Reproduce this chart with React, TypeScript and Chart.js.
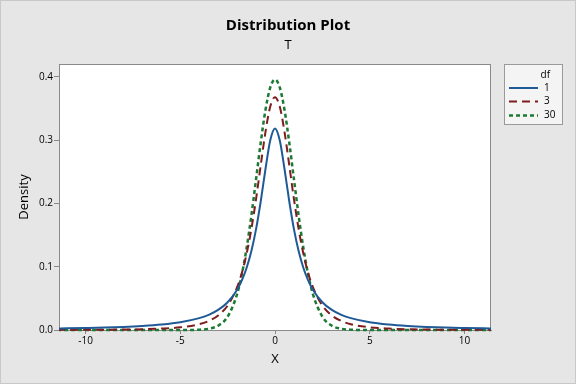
import React, { useEffect, useRef } from "react";
import { Chart, registerables } from "chart.js";

Chart.register(...registerables);

const chartTitle = "Distribution Plot";
const chartSubtitle = "T";
const xAxisTitle = "X";
const yAxisTitle = "Density";
const legendTitle = "df";
const seriesLabels = ["1", "3", "30"];

const xValues = [
  -11.5, -11, -10, -9, -8, -7, -6, -5, -4, -3.5, -3, -2.5, -2, -1.75, -1.5, -1.25, -1, -0.75, -0.5, -0.25,
  0,
  0.25, 0.5, 0.75, 1, 1.25, 1.5, 1.75, 2, 2.5, 3, 3.5, 4, 5, 6, 7, 8, 9, 10, 11, 11.5,
];

const df1 = [
  0.0024, 0.0026, 0.0032, 0.0039, 0.0049, 0.0064, 0.0086, 0.0122, 0.0187, 0.024, 0.0318, 0.0439, 0.0637, 0.0784, 0.0979, 0.1242, 0.1592, 0.2037, 0.2546, 0.2996,
  0.3183,
  0.2996, 0.2546, 0.2037, 0.1592, 0.1242, 0.0979, 0.0784, 0.0637, 0.0439, 0.0318, 0.024, 0.0187, 0.0122, 0.0086, 0.0064, 0.0049, 0.0039, 0.0032, 0.0026, 0.0024,
];

const df3 = [
  0.0002, 0.0002, 0.0003, 0.0005, 0.0007, 0.0012, 0.0022, 0.0042, 0.0092, 0.0142, 0.023, 0.0387, 0.0675, 0.09, 0.12, 0.1589, 0.2067, 0.2607, 0.3132, 0.3528,
  0.3676,
  0.3528, 0.3132, 0.2607, 0.2067, 0.1589, 0.12, 0.09, 0.0675, 0.0387, 0.023, 0.0142, 0.0092, 0.0042, 0.0022, 0.0012, 0.0007, 0.0005, 0.0003, 0.0002, 0.0002,
];

const df30 = [
  0, 0, 0, 0, 0, 0, 0, 0, 0.0005, 0.002, 0.0068, 0.0211, 0.0568, 0.0877, 0.129, 0.1801, 0.238, 0.2966, 0.3479, 0.383,
  0.3956,
  0.383, 0.3479, 0.2966, 0.238, 0.1801, 0.129, 0.0877, 0.0568, 0.0211, 0.0068, 0.002, 0.0005, 0, 0, 0, 0, 0, 0, 0, 0,
];

const xTickValues = [-10, -5, 0, 5, 10];
const yTickValues = [0, 0.1, 0.2, 0.3, 0.4];

const FONT = "'Open Sans', 'Noto Sans', sans-serif";

const seriesStyles = [
  { color: "#1f5a96", dash: [] as number[], width: 2 },
  { color: "#7e1d1d", dash: [8, 5], width: 2 },
  { color: "#1b7a33", dash: [4, 3], width: 2.5 },
];

const backgroundPlugin = {
  id: "bgPlugin",
  beforeDraw(chart: any) {
    const { ctx, width, height, chartArea } = chart;
    ctx.save();
    ctx.fillStyle = "#e6e6e6";
    ctx.fillRect(0, 0, width, height);
    ctx.strokeStyle = "#c9c9c9";
    ctx.lineWidth = 1;
    ctx.strokeRect(0.5, 0.5, width - 1, height - 1);
    ctx.fillStyle = "#ffffff";
    ctx.fillRect(chartArea.left, chartArea.top, chartArea.right - chartArea.left, chartArea.bottom - chartArea.top);
    ctx.restore();
  },
  beforeDatasetsDraw(chart: any) {
    const { ctx, chartArea } = chart;
    ctx.save();
    ctx.strokeStyle = "#8a8a8a";
    ctx.lineWidth = 1;
    ctx.strokeRect(
      Math.round(chartArea.left) + 0.5,
      Math.round(chartArea.top) + 0.5,
      Math.round(chartArea.right - chartArea.left) - 1,
      Math.round(chartArea.bottom - chartArea.top)
    );
    ctx.restore();
  },
};

const legendPlugin = {
  id: "boxLegend",
  afterDraw(chart: any) {
    const { ctx, chartArea } = chart;
    const left = Math.round(chartArea.right) + 13;
    const top = Math.round(chartArea.top);
    const w = 58;
    const h = 60;
    ctx.save();
    ctx.fillStyle = "#f4f4f4";
    ctx.fillRect(left, top, w, h);
    ctx.strokeStyle = "#9a9a9a";
    ctx.lineWidth = 1;
    ctx.strokeRect(left + 0.5, top + 0.5, w, h);
    ctx.fillStyle = "#000000";
    ctx.font = `10px ${FONT}`;
    ctx.textBaseline = "middle";
    ctx.textAlign = "right";
    ctx.fillText(legendTitle, left + 46, top + 11);
    ctx.textAlign = "left";
    const ys = [top + 24, top + 37.5, top + 51.5];
    chart.data.datasets.forEach((ds: any, i: number) => {
      ctx.save();
      ctx.strokeStyle = ds.borderColor;
      ctx.lineWidth = ds.borderWidth;
      ctx.setLineDash(ds.borderDash || []);
      ctx.beginPath();
      ctx.moveTo(left + 5, ys[i]);
      ctx.lineTo(left + 34, ys[i]);
      ctx.stroke();
      ctx.restore();
      ctx.fillStyle = "#000000";
      ctx.fillText(ds.label, left + 40, ys[i]);
    });
    ctx.restore();
  },
};

export default function App() {
  const canvasRef = useRef<HTMLCanvasElement | null>(null);

  useEffect(() => {
    document.body.style.margin = "0";
    Chart.defaults.font.family = FONT;
    const canvas = canvasRef.current;
    if (!canvas) return;

    const seriesValues = [df1, df3, df30];
    const datasets = seriesValues.map((vals, i) => ({
      label: seriesLabels[i],
      data: xValues.map((x, j) => ({ x, y: vals[j] })),
      borderColor: seriesStyles[i].color,
      backgroundColor: seriesStyles[i].color,
      borderWidth: seriesStyles[i].width,
      borderDash: seriesStyles[i].dash,
      pointRadius: 0,
      fill: false,
      cubicInterpolationMode: "monotone" as const,
      clip: { left: 0, right: 0, top: 0, bottom: 2 },
      yAxisID: "y",
    }));

    const chart = new Chart(canvas, {
      type: "line",
      data: { datasets },
      options: {
        animation: false,
        responsive: false,
        devicePixelRatio: 1,
        layout: { padding: { left: 0, right: 0, top: 0, bottom: 0 } },
        plugins: {
          legend: { display: false },
          tooltip: { enabled: false },
          title: {
            display: true,
            text: chartTitle,
            color: "#000000",
            font: { size: 15, weight: "bold", family: FONT, lineHeight: 1.2 },
            padding: { top: 17, bottom: 2 },
          },
          subtitle: {
            display: true,
            text: chartSubtitle,
            color: "#000000",
            font: { size: 13, family: FONT, lineHeight: 1.2 },
            padding: { top: 0, bottom: 11.4 },
          },
        },
        scales: {
          x: {
            type: "linear",
            min: -11.4,
            max: 11.4,
            afterFit(scale: any) {
              scale.height = 54;
            },
            afterBuildTicks(scale: any) {
              scale.ticks = xTickValues.map((v) => ({ value: v }));
            },
            ticks: {
              color: "#000000",
              font: { size: 10, family: FONT },
              padding: 1,
              maxRotation: 0,
              includeBounds: false,
              callback: (v: any) => String(v),
            },
            grid: {
              display: true,
              drawOnChartArea: false,
              drawTicks: true,
              tickLength: 4,
              color: "#8a8a8a",
            },
            border: { display: true, color: "#8a8a8a" },
            title: {
              display: true,
              text: xAxisTitle,
              color: "#000000",
              font: { size: 13, family: FONT, lineHeight: 1.2 },
              padding: { top: 0, bottom: 17 },
            },
          },
          y: {
            type: "linear",
            position: "left",
            min: 0,
            max: 0.42,
            afterFit(scale: any) {
              scale.width = 59;
            },
            afterBuildTicks(scale: any) {
              scale.ticks = yTickValues.map((v) => ({ value: v }));
            },
            ticks: {
              color: "#000000",
              font: { size: 10, family: FONT },
              padding: 1,
              includeBounds: false,
              callback: (v: any) => Number(v).toFixed(1),
            },
            grid: {
              display: true,
              drawOnChartArea: false,
              drawTicks: true,
              tickLength: 5,
              color: "#8a8a8a",
            },
            border: { display: true, color: "#8a8a8a" },
            title: {
              display: true,
              text: yAxisTitle,
              color: "#000000",
              font: { size: 13, family: FONT, lineHeight: 1.2 },
              padding: { top: 16, bottom: 0 },
            },
          },
          legendSpace: {
            type: "linear",
            position: "right",
            display: true,
            min: 0,
            max: 1,
            afterFit(scale: any) {
              scale.width = 85;
            },
            ticks: { display: false },
            grid: { display: false, drawTicks: false },
            border: { display: false },
            title: { display: false },
          },
        },
      },
      plugins: [backgroundPlugin, legendPlugin],
    });

    return () => {
      chart.destroy();
    };
  }, []);

  return (
    <div style={{ width: 576, height: 384 }}>
      <canvas ref={canvasRef} width={576} height={384} style={{ display: "block" }} />
    </div>
  );
}
